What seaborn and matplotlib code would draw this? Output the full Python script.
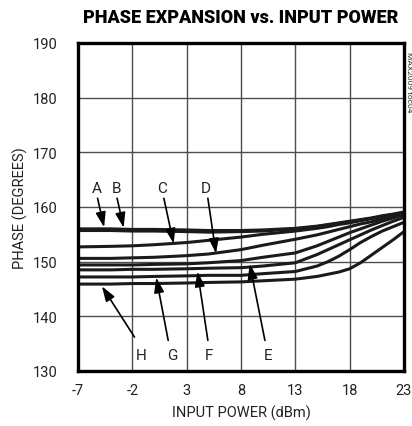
import numpy as np
import pandas as pd
import matplotlib
matplotlib.use("Agg")
import matplotlib.pyplot as plt
import seaborn as sns

# ---- data ----
power = [-7, -4, -2, 0, 3, 5, 8, 10, 13, 15, 16, 17, 18, 19, 20, 21, 22, 23]
curve_A = [156.0, 156.0, 155.9, 155.9, 155.8, 155.7, 155.7, 155.8, 156.1, 156.5, 156.8, 157.1, 157.4, 157.7, 158.0, 158.4, 158.7, 159.1]
curve_B = [155.7, 155.7, 155.6, 155.6, 155.5, 155.4, 155.5, 155.6, 156.0, 156.4, 156.7, 157.0, 157.3, 157.6, 157.9, 158.3, 158.6, 159.0]
curve_C = [152.7, 152.8, 152.9, 153.1, 153.5, 153.9, 154.5, 155.0, 155.6, 156.1, 156.4, 156.8, 157.1, 157.5, 157.9, 158.2, 158.6, 158.9]
curve_D = [150.6, 150.6, 150.7, 150.8, 151.1, 151.4, 152.2, 153.0, 154.1, 154.9, 155.4, 155.9, 156.4, 156.9, 157.3, 157.8, 158.2, 158.7]
curve_E = [149.4, 149.4, 149.4, 149.5, 149.6, 149.8, 150.2, 150.8, 151.6, 152.9, 153.7, 154.5, 155.3, 156.0, 156.7, 157.4, 158.0, 158.6]
curve_F = [148.5, 148.5, 148.6, 148.6, 148.7, 148.8, 148.9, 149.2, 149.8, 151.3, 152.2, 153.1, 154.0, 154.9, 155.8, 156.6, 157.4, 158.1]
curve_G = [147.2, 147.2, 147.2, 147.3, 147.4, 147.5, 147.5, 147.8, 148.2, 149.2, 150.0, 151.0, 152.2, 153.5, 154.6, 155.6, 156.4, 157.2]
curve_H = [145.9, 145.9, 146.0, 146.0, 146.1, 146.2, 146.3, 146.5, 146.8, 147.3, 147.7, 148.1, 148.7, 149.8, 151.2, 152.6, 154.0, 155.5]
curve_names = ["A", "B", "C", "D", "E", "F", "G", "H"]
x_ticks = [-7, -2, 3, 8, 13, 18, 23]
y_ticks = [130, 140, 150, 160, 170, 180, 190]

# label text positions and arrow tips (data units)
label_text_xy = {"A": (-5.3, 163.4), "B": (-3.5, 163.4), "C": (0.7, 163.4), "D": (4.75, 163.4),
                 "E": (10.5, 133.0), "F": (5.05, 133.0), "G": (1.65, 133.0), "H": (-1.2, 133.0)}
arrow_start_xy = {"A": (-5.2, 161.6), "B": (-3.4, 161.6), "C": (0.9, 161.6), "D": (4.95, 161.6),
                  "E": (10.2, 135.6), "F": (4.95, 135.6), "G": (1.3, 135.6), "H": (-1.8, 136.2)}
arrow_tip_xy = {"A": (-4.6, 156.3), "B": (-2.8, 156.2), "C": (1.8, 153.3), "D": (5.7, 151.5),
                "E": (8.8, 149.6), "F": (4.0, 148.2), "G": (0.2, 147.1), "H": (-4.8, 145.5)}

curves = [curve_A, curve_B, curve_C, curve_D, curve_E, curve_F, curve_G, curve_H]
df = pd.DataFrame({
    "power": np.tile(power, len(curves)),
    "phase": np.concatenate(curves),
    "curve": np.repeat(curve_names, len(power)),
})

sns.set_style("white")
plt.rcParams["font.family"] = ["Roboto", "DejaVu Sans"]

fig = plt.figure(figsize=(4.12, 4.27), dpi=100)
ax = fig.add_axes([78 / 412, 1 - 372 / 427, 326 / 412, 328 / 427])

sns.lineplot(data=df, x="power", y="phase", hue="curve", palette=["#1a1a1a"] * 8,
             linewidth=2.2, legend=False, ax=ax)

ax.set_xlim(-7, 23)
ax.set_ylim(130, 190)
ax.set_xticks(x_ticks)
ax.set_yticks(y_ticks)
ax.set_xticklabels([str(v) for v in x_ticks])
ax.set_yticklabels([str(v) for v in y_ticks])
ax.tick_params(axis="both", length=0, labelsize=10.5, colors="#222222")
ax.tick_params(axis="x", pad=9)
ax.tick_params(axis="y", pad=15)
ax.grid(True, color="#4d4d4d", linewidth=1.0)
ax.set_axisbelow(True)
for s in ax.spines.values():
    s.set_color("black")
    s.set_linewidth(2.4)

ax.set_xlabel("INPUT POWER (dBm)", fontsize=10.5, color="#222222", labelpad=5)
ax.set_ylabel("PHASE (DEGREES)", fontsize=10.5, color="#222222", labelpad=3)
fig.text(241 / 412, 1 - 18 / 427, "PHASE EXPANSION vs. INPUT POWER", ha="center", va="center",
         fontsize=13, fontweight="heavy", color="black")
fig.text(409 / 412, 1 - 82 / 427, "MAX2009 toc04", rotation=270, ha="center", va="center",
         fontsize=6, color="#333333")

for name in curve_names:
    tx, ty = label_text_xy[name]
    ax.text(tx, ty, name, ha="center", va="center", fontsize=11, color="#222222")
    ax.annotate("", xy=arrow_tip_xy[name], xytext=arrow_start_xy[name],
                arrowprops=dict(arrowstyle="-|>,head_length=0.9,head_width=0.3",
                                color="black", lw=1.2, shrinkA=0, shrinkB=0))

fig.savefig("out.png", dpi=100)
